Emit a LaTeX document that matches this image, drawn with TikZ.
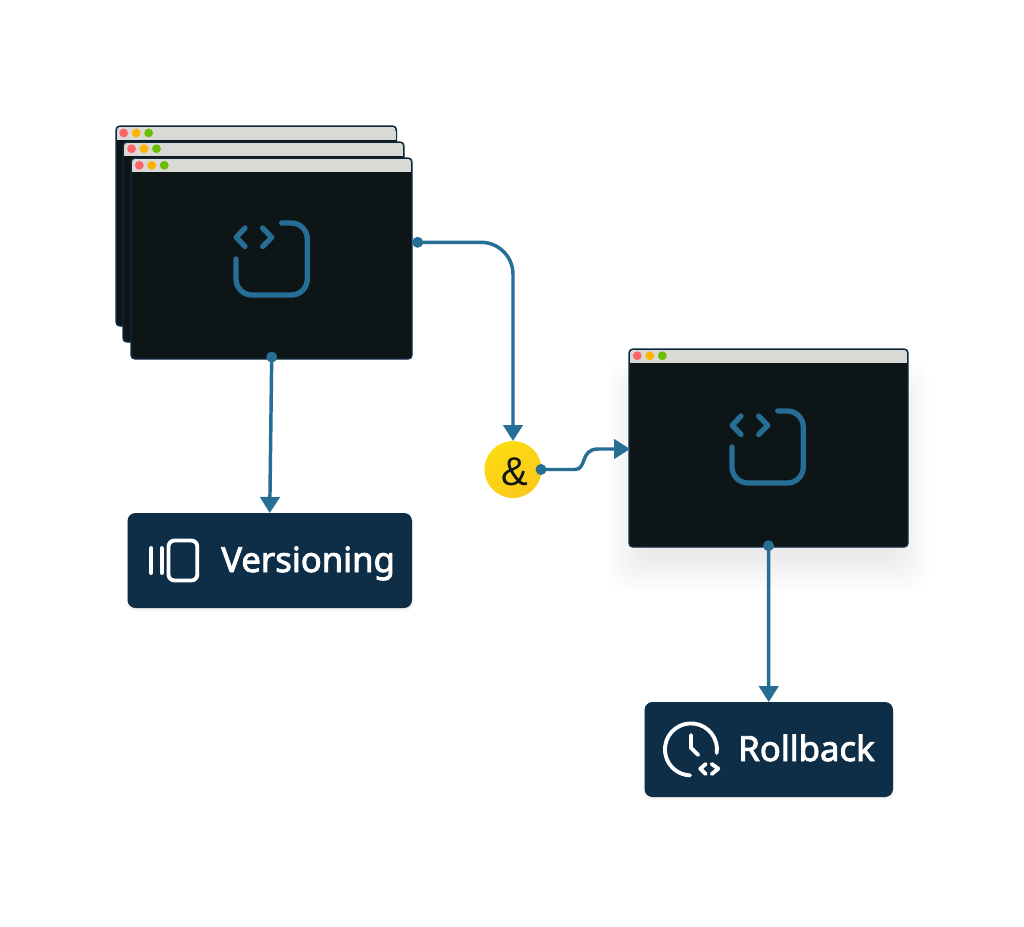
\documentclass[tikz,border=0pt]{standalone}
\usepackage{fontspec}
\setmainfont{Liberation Sans}
\newfontfamily\labelfont{Noto Sans}[FakeBold=2.5]
\usetikzlibrary{arrows.meta,calc}
\definecolor{wire}{HTML}{266E96}
\definecolor{winbg}{HTML}{0D1517}
\definecolor{winedge}{HTML}{0F2D46}
\definecolor{barbg}{HTML}{D9D9D6}
\definecolor{labelbg}{HTML}{0E2D46}
\definecolor{dotr}{HTML}{FF6468}
\definecolor{doto}{HTML}{FFB300}
\definecolor{dotg}{HTML}{6CBF00}
\definecolor{ampa}{HTML}{FDDB10}
\definecolor{ampb}{HTML}{FCC81C}
\def\px{0.75pt}
\tikzset{
  x=0.75pt,y=-0.75pt,
  winbox/.style={draw=winedge,line width=1.1pt,fill=winbg,rounded corners=3pt,inner sep=0pt,outer sep=0pt},
  barfill/.style={fill=barbg,rounded corners=2.2pt},
  labelbox/.style={fill=labelbg,rounded corners=6pt,inner sep=0pt,outer sep=0pt},
  wiredot/.style={circle,fill=wire,inner sep=0pt,outer sep=0pt,minimum size=11*\px},
  wireline/.style={draw=wire,line width=2.6pt},
  wirearrow/.style={wireline,-{Triangle[length=12pt,width=14.5pt]}},
  codeline/.style={draw=wire,line width=4pt,line cap=round,line join=round},
  whiteline/.style={draw=white,line width=2.9pt,line cap=round,line join=round},
  labeltext/.style={text=white,font=\labelfont\fontsize{26pt}{28pt}\selectfont,inner sep=0pt},
}
% name, left, top, right, bottom, first dot x, dot y
\newcommand\browserwin[7]{%
  \pgfmathsetmacro\wcx{(#2+#4)/2}\pgfmathsetmacro\wcy{(#3+#5)/2}%
  \node[winbox,minimum width={(#4-#2)*\px},minimum height={(#5-#3)*\px}] (#1) at (\wcx,\wcy) {};
  \path[barfill,sharp corners] (#2+1,#3+5) -- (#2+1,#3+14) -- (#4-1,#3+14) -- (#4-1,#3+5) -- cycle;
  \path[barfill] (#2+1,#3+7) -- (#2+1,#3+1) -- (#4-1,#3+1) -- (#4-1,#3+7) -- cycle;
  \fill[dotr] (#6,#7) circle[radius=3.3pt];
  \fill[doto] (#6+12.5,#7) circle[radius=3.3pt];
  \fill[dotg] (#6+25,#7) circle[radius=3.3pt];
}
\newcommand\codeicon{%
  \draw[codeline,rounded corners=12pt] (281.7,223) -- (307.3,223) -- (307.3,295) -- (236,295) -- (236,259);
  \draw[codeline] (245,228) -- (236.3,237.3) -- (245,246.5);
  \draw[codeline] (262.7,228) -- (271.7,237.3) -- (262.7,246.5);
}
\begin{document}
\begin{tikzpicture}
\useasboundingbox[fill=white] (0,0) rectangle (1024,926);
% soft shadow of the right window
\foreach \k in {0,...,19}{
  \fill[black,opacity=0.0055,rounded corners=14pt]
    (629-22+\k*1.8,349+10+\k*1.8) rectangle (908+22-\k*1.8,547+45-\k*1.8);
}
% soft shadow of the label boxes
\foreach \k in {0,1,2}{
  \fill[black,opacity=0.02,rounded corners=6pt] (127.5-\k,516) rectangle (412+\k,609+\k);
  \fill[black,opacity=0.02,rounded corners=6pt] (644.5-\k,705) rectangle (893+\k,798+\k);
}
% stacked windows
\browserwin{winA}{116}{126}{396.5}{326}{123.7}{133}
\browserwin{winB}{123}{142}{404}{342}{131.5}{148.7}
\browserwin{winC}{131}{158}{412}{359}{139.3}{165.3}
\codeicon
% right window
\browserwin{winD}{629}{349}{908}{547}{637.3}{355.7}
\begin{scope}[shift={(496,188)}]
\codeicon
\end{scope}
% label boxes
\node[labelbox,minimum width=284.5*\px,minimum height=95*\px] (ver) at (269.75,560.5) {};
\node[labeltext,anchor=base west] (vertext) at (221,572) {Versioning};
\draw[whiteline] (151.2,548) -- (151.2,573);
\draw[whiteline] (161.7,548) -- (161.7,573);
\draw[whiteline,rounded corners=4.5pt] (168.5,540.5) rectangle (197.3,580.5);
\node[labelbox,minimum width=248.5*\px,minimum height=95*\px] (rol) at (768.75,749.5) {};
\node[labeltext,anchor=base west] (roltext) at (738,761) {Rollback};
\draw[whiteline] (716.7,753) arc[start angle=-8,end angle=268,radius=19.5pt];
\draw[whiteline] (691,735) -- (691,748) -- (698.3,755);
\draw[whiteline] (705.7,764) -- (700.3,768.7) -- (705.7,774);
\draw[whiteline] (711.7,764) -- (718.3,768.7) -- (711.7,774);
% & junction
\node[circle,minimum size=57*\px,inner sep=0pt,outer sep=0pt,shading=axis,left color=ampa,right color=ampb,shading angle=30] (amp) at (513,469.5) {};
\node[text=winbg,font=\fontsize{30pt}{32pt}\selectfont,inner sep=0pt] (amptext) at (514.5,472) {\&};
% connector dots
\node[wiredot] (dotA) at (417.7,242.3) {};
\node[wiredot] (dotB) at (271.7,357) {};
\node[wiredot] (dotC) at (541,469.5) {};
\node[wiredot] (dotD) at (768.5,545.7) {};
\coordinate (entry) at (630,449);
% connectors
\draw[wirearrow,rounded corners=24pt] (dotA.center) -| (amp.north);
\draw[wirearrow] (dotB.center) -- (ver.north);
\draw[wirearrow] (dotD.center) -- (rol.north);
\draw[wirearrow] (dotC.center) -- (575,469.5) .. controls (587,469.5) and (580,449) .. (598,449) -- (entry);
\end{tikzpicture}
\end{document}
